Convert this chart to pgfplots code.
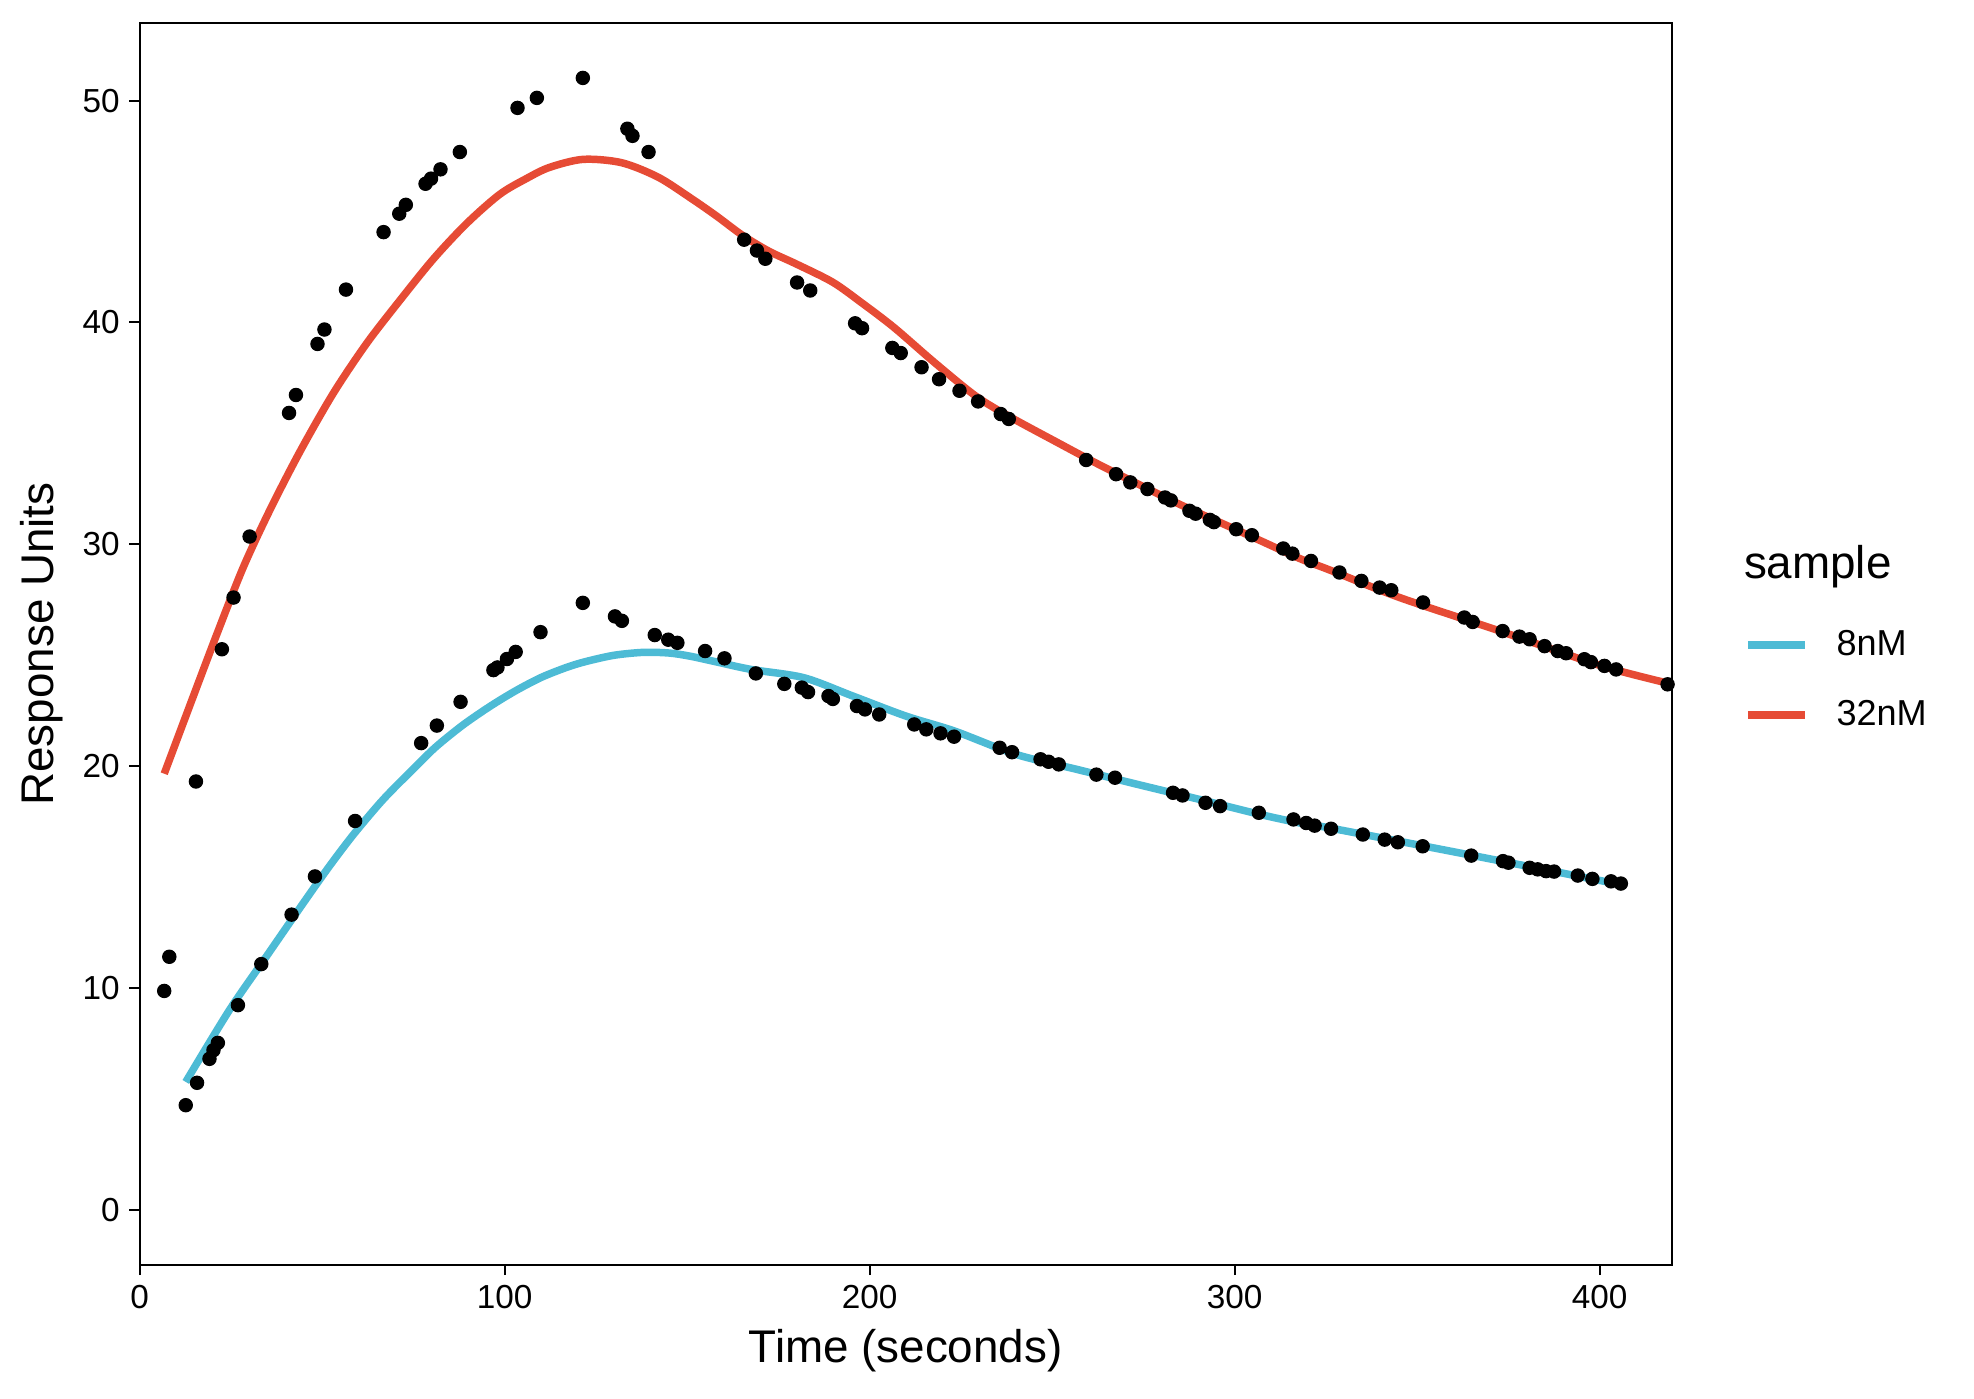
\documentclass[border=0pt]{standalone}
\usepackage{fontspec}
\setmainfont{Liberation Sans}
\usepackage{pgfplots}
\usepackage{pgfplotstable}
\pgfplotsset{compat=1.18}
\definecolor{npgred}{HTML}{E64B35}
\definecolor{npgblue}{HTML}{4DBBD5}

\pgfplotstableread{
x y
6.7 9.87
8.1 11.41
15.4 19.31
22.5 25.27
25.7 27.6
30.1 30.35
40.9 35.92
42.8 36.73
48.7 39.03
50.6 39.68
56.5 41.48
66.8 44.07
71.1 44.9
72.9 45.3
78.3 46.25
79.8 46.48
82.4 46.9
87.7 47.68
103.5 49.67
108.8 50.12
121.4 51.02
133.6 48.73
135.0 48.41
139.4 47.68
165.6 43.73
169.1 43.24
171.4 42.87
180.1 41.8
183.7 41.44
196.0 39.96
197.9 39.74
206.2 38.85
208.5 38.62
214.2 37.98
219.0 37.44
224.6 36.92
229.7 36.44
235.9 35.87
238.1 35.65
259.3 33.8
267.5 33.16
271.4 32.79
276.1 32.49
280.9 32.11
282.5 31.98
287.6 31.51
289.3 31.38
293.2 31.1
294.3 31.0
300.4 30.68
304.7 30.41
313.3 29.81
315.8 29.58
320.9 29.25
328.7 28.73
334.7 28.35
339.7 28.05
342.9 27.93
351.6 27.38
362.9 26.7
365.2 26.5
373.4 26.09
378.0 25.84
380.8 25.72
384.9 25.41
388.5 25.19
390.8 25.09
395.8 24.82
397.6 24.69
401.3 24.52
404.5 24.36
418.6 23.69
}\ptsred

\pgfplotstableread{
x y
12.6 4.72
15.7 5.73
19.1 6.81
20.2 7.2
21.4 7.53
26.9 9.23
33.3 11.08
41.6 13.31
48.0 15.03
59.0 17.53
77.1 21.04
81.4 21.83
87.9 22.9
96.9 24.33
98.0 24.45
100.6 24.83
103.0 25.15
109.8 26.04
121.4 27.36
130.2 26.75
132.1 26.55
141.1 25.91
144.8 25.7
147.3 25.56
154.9 25.19
160.2 24.86
168.8 24.18
176.6 23.71
181.4 23.54
183.1 23.34
188.7 23.16
189.9 23.03
196.5 22.71
198.7 22.56
202.6 22.33
212.2 21.88
215.5 21.66
219.4 21.48
223.1 21.33
235.6 20.83
239.0 20.63
246.8 20.31
249.0 20.2
251.8 20.08
262.1 19.62
267.2 19.48
283.1 18.8
285.7 18.68
292.0 18.35
296.0 18.2
306.6 17.9
316.1 17.6
319.6 17.44
321.9 17.32
326.4 17.18
335.1 16.92
341.1 16.69
344.7 16.57
351.5 16.39
364.8 15.97
373.5 15.72
375.0 15.65
380.8 15.42
383.0 15.35
385.3 15.27
387.5 15.25
394.0 15.07
398.0 14.92
403.1 14.81
405.8 14.71
}\ptsblue

\pgfplotstableread{
x y
12.6 5.77
24.5 8.99
34.3 11.33
45.1 13.9
52.0 15.5
58.7 16.95
66.7 18.5
74.5 19.8
81.0 20.85
88.5 21.85
96.0 22.7
103.0 23.4
110.0 24.0
116.9 24.45
122.3 24.72
130.0 25.0
138.0 25.13
145.0 25.1
150.7 24.96
158.0 24.7
167.5 24.36
181.9 23.99
195.4 23.16
209.9 22.26
223.3 21.58
240.1 20.53
256.9 19.85
273.6 19.17
290.4 18.5
307.1 17.82
317.8 17.44
325.9 17.22
361.6 16.09
405.9 14.66
}\fitblue

\pgfplotstableread{
x y
6.7 19.66
13.8 22.77
21.1 25.94
28.3 28.94
35.7 31.56
43.9 34.18
53.0 36.8
62.1 39.04
71.3 41.0
80.4 42.85
89.5 44.45
98.6 45.77
106.0 46.49
112.3 46.99
121.5 47.35
132.0 47.2
142.0 46.55
151.0 45.6
158.0 44.8
165.2 43.92
172.5 43.2
179.8 42.64
189.8 41.82
197.6 40.91
206.6 39.78
217.7 38.2
228.9 36.7
237.8 35.8
251.3 34.6
262.5 33.62
273.6 32.71
284.8 31.81
295.9 30.99
307.1 30.16
317.8 29.36
325.9 28.85
345.2 27.6
372.5 26.1
399.9 24.55
419.7 23.7
}\fitred

\begin{document}
\begin{tikzpicture}
\begin{axis}[
  scale only axis, width=19.40cm, height=15.73cm,
  xmin=0, xmax=419.7, ymin=-2.48, ymax=53.5,
  xtick={0,100,200,300,400}, ytick={0,10,20,30,40,50},
  tick pos=left, tick align=outside, major tick length=0.13cm,
  tick style={black, line width=0.7pt},
  axis line style={line width=0.7pt},
  ticklabel style={font=\fontsize{12}{14}\selectfont},
  /pgf/number format/assume math mode=true,
  xlabel={Time (seconds)}, ylabel={Response Units},
  label style={font=\fontsize{16.5}{19}\selectfont},
  xlabel style={at={(axis description cs:0.5,-0.0689)}, anchor=center},
  ylabel style={at={(axis description cs:-0.0641,0.5)}, anchor=center},
  legend style={draw=none, fill=none, at={(rel axis cs:1.0469,0.5161)}, anchor=north west,
    font=\fontsize{13}{15}\selectfont, row sep=0.382cm, inner sep=0pt},
  legend cell align=left,
  legend image code/.code={\draw[#1, line width=2.8pt] (0cm,0cm) -- (0.72cm,0cm); \path (1.005cm,0cm);},
]
\addplot[only marks, mark=*, mark size=2.4pt, black, forget plot] table {\ptsred};
\addplot[only marks, mark=*, mark size=2.4pt, black, forget plot] table {\ptsblue};
\addplot[npgblue, line width=2.7pt, smooth, no markers] table {\fitblue};
\addlegendentry{8nM}
\addplot[npgred, line width=2.7pt, smooth, no markers] table {\fitred};
\addlegendentry{32nM}
\end{axis}
\node[anchor=base west, inner sep=0pt, font=\fontsize{16.5}{19}\selectfont] at (20.31cm,8.69cm) {sample};
\pgfresetboundingbox
\path[use as bounding box] (-1.77cm,-1.69cm) rectangle (23.23cm,16.02cm);
\end{tikzpicture}
\end{document}
